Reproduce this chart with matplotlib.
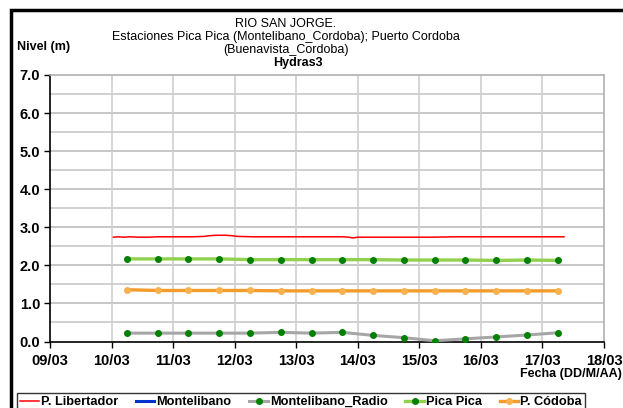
import matplotlib
matplotlib.use("Agg")
import matplotlib.pyplot as plt
from matplotlib.lines import Line2D
from matplotlib.patches import Rectangle

plt.rcParams['font.family'] = ['Liberation Sans', 'DejaVu Sans']

# ---- data (day of March) ----
tick_days = [9, 10, 11, 12, 13, 14, 15, 16, 17, 18]
tick_labels = ["09/03", "10/03", "11/03", "12/03", "13/03", "14/03", "15/03", "16/03", "17/03", "18/03"]

pt_days = [10.25, 10.75, 11.25, 11.75, 12.25, 12.75, 13.25, 13.75, 14.25, 14.75,
           15.25, 15.75, 16.25, 16.75, 17.25]
radio = [0.22, 0.22, 0.22, 0.22, 0.22, 0.24, 0.22, 0.24, 0.16, 0.10,
         0.02, 0.07, 0.12, 0.17, 0.23]
pica = [2.17, 2.17, 2.17, 2.17, 2.15, 2.15, 2.15, 2.15, 2.15, 2.14,
        2.14, 2.14, 2.13, 2.14, 2.13]
cordoba = [1.36, 1.34, 1.34, 1.34, 1.34, 1.33, 1.33, 1.33, 1.33, 1.33,
           1.33, 1.33, 1.33, 1.33, 1.33]

lib_days = [10.03, 10.1, 10.2, 10.3, 10.45, 10.6, 10.75, 10.9, 11.1, 11.3, 11.5,
            11.6, 11.7, 11.85, 11.95, 12.05, 12.3, 12.6, 12.9, 13.2, 13.5, 13.75,
            13.85, 13.92, 14.0, 14.4, 14.8, 15.2, 15.6, 16.0, 16.5, 17.0, 17.35]
lib_vals = [2.74, 2.75, 2.74, 2.75, 2.74, 2.74, 2.75, 2.75, 2.75, 2.75, 2.76,
            2.78, 2.79, 2.79, 2.78, 2.76, 2.75, 2.75, 2.75, 2.75, 2.75, 2.75,
            2.74, 2.72, 2.74, 2.74, 2.74, 2.74, 2.75, 2.75, 2.75, 2.75, 2.75]

C_RED = "#FF0000"
C_BLUE = "#0033CC"
C_GRAY = "#A6A6A6"
C_LGREEN = "#92D050"
C_DGREEN = "#008000"
C_ORANGE = "#F39C2B"

fig = plt.figure(figsize=(6.23, 4.08), dpi=100)
W, H = 623.0, 408.0
ax = fig.add_axes([50 / W, 1 - 341.5 / H, (604 - 50) / W, (341.5 - 75) / H])

# outer frame (cut off at right and bottom)
fig.patches.append(Rectangle((11 / W, -0.05), 1.1, (1 - 10 / H) + 0.05,
                             transform=fig.transFigure, fill=False,
                             edgecolor="black", linewidth=2.5, zorder=0))

ax.set_xlim(9, 18)
ax.set_ylim(0, 7)
ax.set_xticks(tick_days)
ax.set_xticklabels(tick_labels)
ax.set_yticks(range(0, 8))
ax.set_yticklabels([f"{v:.1f}" for v in range(0, 8)])

for v in [0.5 * i for i in range(1, 14)]:
    ax.axhline(v, color="#C8C8C8" if v % 1 else "#BDBDBD", linewidth=1.2, zorder=1)
for d in tick_days[1:-1]:
    ax.axvline(d, color="#CFCFCF", linewidth=1.2, zorder=1)

ax.plot(lib_days, lib_vals, color=C_RED, linewidth=1.1, zorder=3)
ax.plot(pt_days, radio, color=C_GRAY, linewidth=2.2, marker="o", markersize=4,
        markerfacecolor=C_DGREEN, markeredgecolor=C_DGREEN, zorder=3)
ax.plot(pt_days, pica, color=C_LGREEN, linewidth=2.4, marker="o", markersize=4,
        markerfacecolor=C_DGREEN, markeredgecolor=C_DGREEN, zorder=3)
ax.plot(pt_days, cordoba, color=C_ORANGE, linewidth=2.4, marker="o", markersize=4,
        markerfacecolor="#F7B24F", markeredgecolor="#F7B24F", zorder=3)

for s in ["top", "right"]:
    ax.spines[s].set_color("#B0B0B0")
    ax.spines[s].set_linewidth(1.2)
for s in ["left", "bottom"]:
    ax.spines[s].set_color("black")
    ax.spines[s].set_linewidth(1.2)

ax.tick_params(axis="both", direction="out", length=4, width=1, color="black",
               labelsize=10.5)
ax.tick_params(axis="x", pad=5)
ax.tick_params(axis="y", pad=3)
for lab in ax.get_xticklabels() + ax.get_yticklabels():
    lab.set_fontweight("bold")

# titles
tx = 286 / W
fs = 9
fig.text(tx, 1 - 24 / H, "RIO SAN JORGE.", ha="center", va="center", fontsize=fs)
fig.text(tx, 1 - 37 / H, "Estaciones Pica Pica (Montelibano_Cordoba); Puerto Cordoba",
         ha="center", va="center", fontsize=fs)
fig.text(tx, 1 - 50 / H, "(Buenavista_Cordoba)", ha="center", va="center", fontsize=fs)
fig.text(298 / W, 1 - 63 / H, "Hydras3", ha="center", va="center", fontsize=fs,
         fontweight="bold")
fig.text(17 / W, 1 - 47 / H, "Nivel (m)", ha="left", va="center", fontsize=fs,
         fontweight="bold")
fig.text(622 / W, 1 - 374 / H, "Fecha (DD/M/AA)", ha="right", va="center", fontsize=fs,
         fontweight="bold")

handles = [
    Line2D([], [], color=C_RED, linewidth=1.1),
    Line2D([], [], color=C_BLUE, linewidth=2.2),
    Line2D([], [], color=C_GRAY, linewidth=2.2, marker="o", markersize=4,
           markerfacecolor=C_DGREEN, markeredgecolor=C_DGREEN),
    Line2D([], [], color=C_LGREEN, linewidth=2.4, marker="o", markersize=4,
           markerfacecolor=C_DGREEN, markeredgecolor=C_DGREEN),
    Line2D([], [], color=C_ORANGE, linewidth=2.4, marker="o", markersize=4,
           markerfacecolor="#F7B24F", markeredgecolor="#F7B24F"),
]
labels = ["P. Libertador", "Montelibano", "Montelibano_Radio", "Pica Pica", "P. Códoba"]
leg = fig.legend(handles, labels, ncol=5, loc="upper left",
                 bbox_to_anchor=(17 / W, 1 - 393 / H), frameon=True,
                 prop={"size": 9.2, "weight": "bold"}, handlelength=1.45,
                 handletextpad=0.15, columnspacing=1.4, borderpad=0.25,
                 fancybox=False, borderaxespad=0)
leg.get_frame().set_edgecolor("black")
leg.get_frame().set_linewidth(1.0)

fig.savefig("out.png", dpi=100)
